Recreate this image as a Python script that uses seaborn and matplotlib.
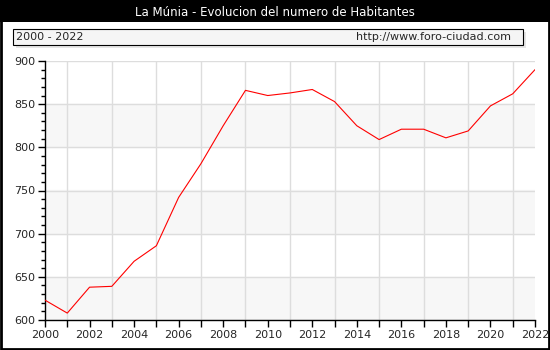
import numpy as np
import pandas as pd
import matplotlib
matplotlib.use("Agg")
import matplotlib.pyplot as plt
import seaborn as sns
from matplotlib.patches import Rectangle

years = list(range(2000, 2023))
habitantes = [623, 608, 638, 639, 668, 686, 742, 781, 825, 866, 860, 863, 867,
              853, 825, 809, 821, 821, 811, 819, 848, 862, 890]
title = "La Múnia - Evolucion del numero de Habitantes"
range_label = "2000 - 2022"
source_label = "http://www.foro-ciudad.com"

df = pd.DataFrame({"year": years, "habitantes": habitantes})

sns.set_style("white")
plt.rcParams["font.family"] = ["DejaVu Sans"]

fig = plt.figure(figsize=(5.5, 3.5), dpi=100)
fig.patch.set_facecolor("white")

# black header band + outer frame
fig.add_artist(Rectangle((0, 1 - 22 / 350), 1, 22 / 350, transform=fig.transFigure,
                         facecolor="black", edgecolor="none"))
fig.add_artist(Rectangle((0.5 / 550, 1.5 / 350), 1 - 2 / 550, 1 - 3 / 350,
                         transform=fig.transFigure, facecolor="none",
                         edgecolor="black", linewidth=2))
fig.text(0.5, 1 - 12 / 350, title, color="white", ha="center", va="center", fontsize=8.5)

# legend-ish box with shadow
fig.add_artist(Rectangle((16 / 550, 1 - 48 / 350), 510 / 550, 16 / 350,
                         transform=fig.transFigure, facecolor="#e6e6e6", edgecolor="none"))
fig.add_artist(Rectangle((13 / 550, 1 - 45 / 350), 510 / 550, 16 / 350,
                         transform=fig.transFigure, facecolor="#f5f5f5",
                         edgecolor="black", linewidth=0.8))
fig.text(16 / 550, 1 - 37 / 350, range_label, ha="left", va="center", fontsize=8)
fig.text(511 / 550, 1 - 37 / 350, source_label, ha="right", va="center", fontsize=8)

ax = fig.add_axes([45 / 550, 30 / 350, 490 / 550, 259 / 350])
ax.set_facecolor("white")
for lo in range(600, 900, 100):
    ax.axhspan(lo, lo + 50, color="#f7f7f7", zorder=0)

sns.lineplot(data=df, x="year", y="habitantes", ax=ax, color="red", linewidth=0.8, zorder=3)

ax.set_xlim(2000, 2022)
ax.set_ylim(600, 900)
ax.set_xticks(range(2000, 2023, 2))
ax.set_xticks(range(2000, 2023), minor=True)
ax.set_yticks(range(600, 901, 50))
ax.set_yticks(range(600, 901, 10), minor=True)
ax.grid(True, which="major", axis="y", color="#dddddd", linewidth=1)
ax.grid(True, which="minor", axis="x", color="#dddddd", linewidth=1)
ax.set_axisbelow(True)
ax.tick_params(axis="both", which="both", direction="out", length=5, width=1, labelsize=8,
               color="black", pad=2, bottom=True, left=True)
ax.tick_params(axis="y", which="minor", length=3)
ax.set_xlabel("")
ax.set_ylabel("")
for side in ["top", "right"]:
    ax.spines[side].set_visible(False)
for side in ["left", "bottom"]:
    ax.spines[side].set_color("black")
    ax.spines[side].set_linewidth(1)

fig.savefig("out.png", dpi=100)
